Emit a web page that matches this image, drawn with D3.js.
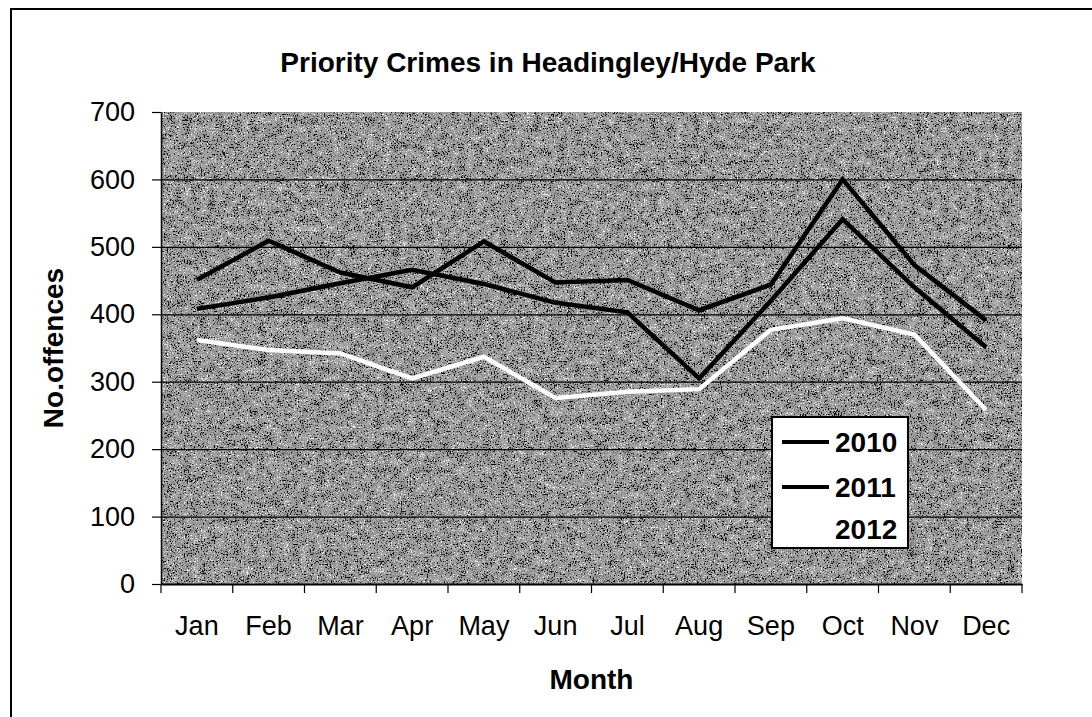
<!DOCTYPE html>
<html>
<head>
<meta charset="utf-8">
<script src="https://cdn.jsdelivr.net/npm/d3@7"></script>
<style>
  html, body { margin: 0; padding: 0; background: #fff; }
  svg { display: block; font-family: "Liberation Sans", Arial, sans-serif; }
</style>
</head>
<body>
<svg id="chart" width="1092" height="717"></svg>
<script>
const months = ["Jan","Feb","Mar","Apr","May","Jun","Jul","Aug","Sep","Oct","Nov","Dec"];
const years = ["2010","2011","2012"];
const values2010 = [451, 509, 462, 440, 508, 447, 451, 406, 444, 600, 473, 391];
const values2011 = [408, 425, 446, 466, 445, 417, 403, 305, 420, 541, 440, 351];
const values2012 = [362, 347, 342, 305, 337, 276, 285, 289, 377, 394, 370, 258];
const yTicks = [0, 100, 200, 300, 400, 500, 600, 700];
const seriesColors = ["#000000", "#000000", "#ffffff"];

const series = [
  { name: years[0], values: values2010, color: seriesColors[0] },
  { name: years[1], values: values2011, color: seriesColors[1] },
  { name: years[2], values: values2012, color: seriesColors[2] }
];

const svg = d3.select("#chart");
const plot = { left: 161, right: 1022, top: 112, bottom: 584 };

// speckled texture filter for the plot background
const defs = svg.append("defs");
const f = defs.append("filter").attr("id", "tex")
  .attr("x", 0).attr("y", 0).attr("width", "100%").attr("height", "100%")
  .attr("color-interpolation-filters", "sRGB");
f.append("feTurbulence").attr("type", "fractalNoise")
  .attr("baseFrequency", "0.12").attr("numOctaves", 2).attr("seed", 11).attr("result", "coarse");
f.append("feTurbulence").attr("type", "fractalNoise")
  .attr("baseFrequency", "0.7").attr("numOctaves", 3).attr("seed", 5).attr("result", "fine");
f.append("feComposite").attr("in", "coarse").attr("in2", "fine")
  .attr("operator", "arithmetic").attr("k1", 0).attr("k2", 0.3).attr("k3", 0.85).attr("k4", -0.06)
  .attr("result", "mix");
f.append("feColorMatrix").attr("in", "mix").attr("type", "matrix")
  .attr("values", "1.8 0 0 0 -0.32  1.8 0 0 0 -0.32  1.8 0 0 0 -0.32  0 0 0 0 1");
const ct = f.append("feComponentTransfer");
["feFuncR","feFuncG","feFuncB"].forEach(n =>
  ct.append(n).attr("type", "discrete")
    .attr("tableValues", "0 0.15 0.48 0.57 0.62 0.65 0.7 0.86 1"));

// outer frame
svg.append("rect")
  .attr("x", 11).attr("y", 9).attr("width", 1100).attr("height", 720)
  .attr("fill", "none").attr("stroke", "#000").attr("stroke-width", 2);

const x = d3.scaleBand().domain(months).range([plot.left, plot.right]).padding(0);
const y = d3.scaleLinear().domain([0, 700]).range([plot.bottom, plot.top]);

// plot background
svg.append("rect")
  .attr("x", x.range()[0]).attr("y", y(700))
  .attr("width", x.range()[1] - x.range()[0]).attr("height", y(0) - y(700))
  .attr("fill", "#888").attr("filter", "url(#tex)");

// gridlines
svg.append("g").selectAll("line")
  .data(yTicks.filter(v => v > 0 && v < 700))
  .join("line")
  .attr("x1", x.range()[0]).attr("x2", x.range()[1])
  .attr("y1", d => y(d) + 0.5).attr("y2", d => y(d) + 0.5)
  .attr("stroke", "#000").attr("stroke-width", 1.3);

// y axis
const yAxis = svg.append("g")
  .attr("transform", `translate(${x.range()[0]},0)`)
  .call(d3.axisLeft(y).tickValues(yTicks).tickSize(9).tickSizeOuter(0).tickPadding(17));
yAxis.select(".domain").attr("stroke", "#000").attr("stroke-width", 1.5);
yAxis.selectAll(".tick line").attr("stroke", "#000").attr("stroke-width", 1.2);
yAxis.selectAll(".tick text")
  .attr("font-size", 27).attr("fill", "#000")
  .attr("font-family", "Liberation Sans, Arial, sans-serif");

// x axis
const xAxis = svg.append("g")
  .attr("transform", `translate(0,${y(0)})`)
  .call(d3.axisBottom(x).tickSize(0).tickPadding(32));
xAxis.select(".domain").attr("stroke", "#000").attr("stroke-width", 2);
xAxis.selectAll(".tick text")
  .attr("font-size", 27).attr("fill", "#000")
  .attr("font-family", "Liberation Sans, Arial, sans-serif");
const boundaries = d3.range(months.length + 1).map(i => x.range()[0] + i * x.bandwidth());
xAxis.append("g").selectAll("line").data(boundaries).join("line")
  .attr("x1", d => d).attr("x2", d => d).attr("y1", 0).attr("y2", 9)
  .attr("stroke", "#000").attr("stroke-width", 1.2);

// lines
const line = d3.line()
  .x((d, i) => x(months[i]) + x.bandwidth() / 2)
  .y(d => y(d));
svg.append("g").selectAll("path").data(series).join("path")
  .attr("d", d => line(d.values))
  .attr("fill", "none")
  .attr("stroke", d => d.color)
  .attr("stroke-width", 4.5)
  .attr("stroke-linejoin", "miter");

// title
svg.append("text")
  .attr("x", 548).attr("y", 72)
  .attr("text-anchor", "middle")
  .attr("font-size", 28).attr("font-weight", "bold")
  .text("Priority Crimes in Headingley/Hyde Park");

// axis titles
svg.append("text")
  .attr("x", (x.range()[0] + x.range()[1]) / 2).attr("y", 689)
  .attr("text-anchor", "middle")
  .attr("font-size", 28).attr("font-weight", "bold")
  .text("Month");
svg.append("text")
  .attr("transform", `translate(63,${(y(0) + y(700)) / 2}) rotate(-90)`)
  .attr("text-anchor", "middle")
  .attr("font-size", 28).attr("font-weight", "bold")
  .text("No.offences");

// legend
const lg = svg.append("g").attr("transform", "translate(772,417)");
lg.append("rect").attr("x", 0).attr("y", 0).attr("width", 136).attr("height", 131)
  .attr("fill", "#fff").attr("stroke", "#000").attr("stroke-width", 2);
const rowY = [25, 70, 112];
const items = lg.selectAll("g.item").data(series).join("g")
  .attr("class", "item")
  .attr("transform", (d, i) => `translate(0,${rowY[i]})`);
items.append("line").attr("x1", 10).attr("x2", 57).attr("y1", 0).attr("y2", 0)
  .attr("stroke", d => d.color).attr("stroke-width", 4);
items.append("text").attr("x", 63).attr("y", 10)
  .attr("font-size", 28).attr("font-weight", "bold")
  .text(d => d.name);
</script>
</body>
</html>
